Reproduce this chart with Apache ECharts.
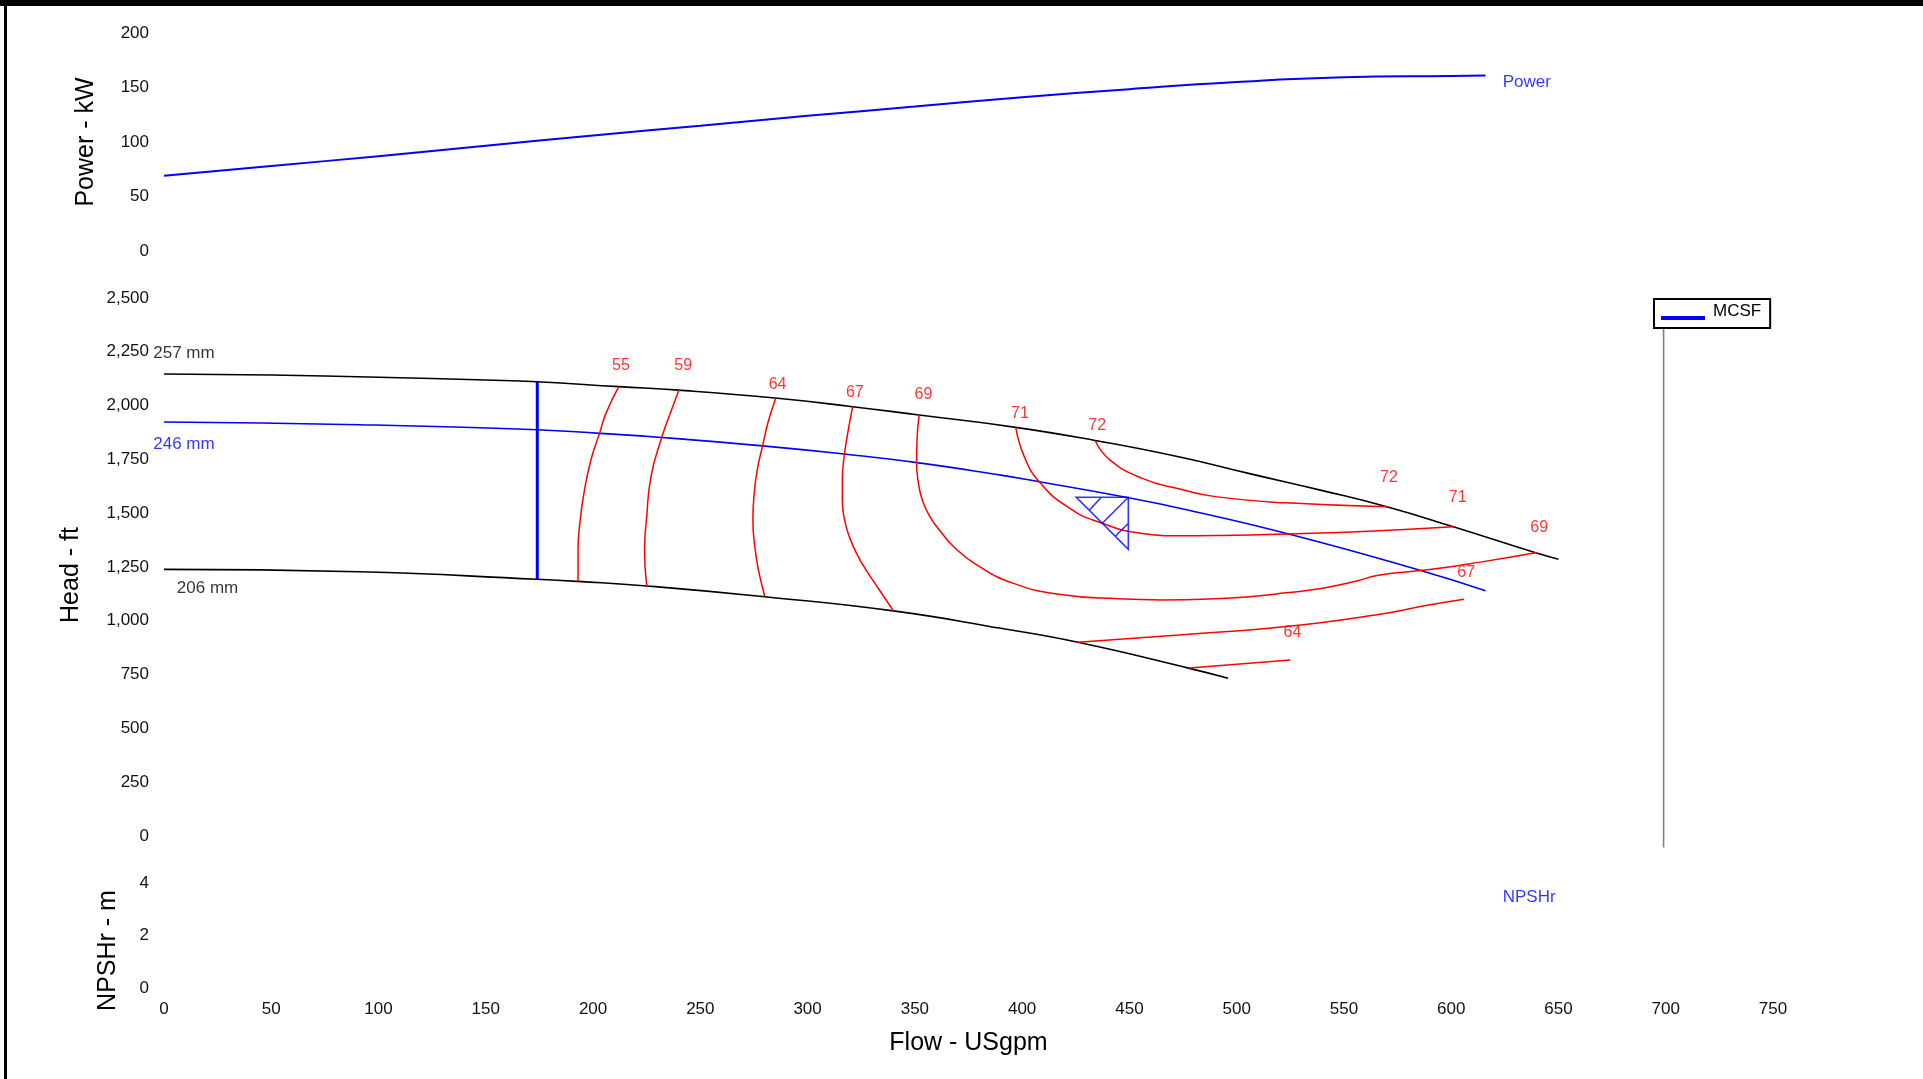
<!DOCTYPE html>
<html><head><meta charset="utf-8">
<script src="https://cdn.jsdelivr.net/npm/echarts@6/dist/echarts.min.js"></script>
<style>html,body{margin:0;padding:0;background:#fff;overflow:hidden}#c{width:1923px;height:1079px}</style>
</head><body><div id="c"></div>
<script>
// ---------- data (flow USgpm, value) ----------
const flowTicks = [0, 750, 50];           // min, max, step
const powerCurve = [[0,69],[50,78],[100,87],[150,96.5],[200,106],[250,115],[300,124],[350,132.5],[400,141],[450,148.5],[500,155],[550,159.3],[600,160.6],[616,161]];
const head257 = [[0,2147],[50,2142],[100,2132],[150,2119],[174,2111],[212,2088],[240,2072],[286,2034],[321,1995],[352,1956],[397,1899],[434,1838],[474,1760],[506,1684],[540,1605],[570,1530],[601,1437],[639,1317],[650,1286]];
const head246 = [[0,1924],[91,1911],[174,1888],[203,1871],[232,1852],[279,1813],[317,1775],[351,1735],[390,1677],[408,1646],[449,1573],[474,1522],[526,1399],[585,1236],[616,1140]];
const head206 = [[0,1239],[91,1228],[174,1193],[193,1183],[225,1162],[280,1112],[340,1046],[390,965],[426,900],[478,779],[496,733]];
const eff55 = [[212,2088],[206,1964],[203,1871],[199,1747],[196,1608],[194,1468],[193,1329],[193,1183]];
const eff59 = [[240,2072],[236,1964],[232,1852],[227,1670],[225,1484],[224,1329],[225,1162]];
const eff64 = [[285,2031],[281.5,1920],[279,1813],[276.5,1700],[275,1580],[274.5,1470],[275.2,1360],[277,1240],[280,1115]];
const eff67 = [[321,1995],[318.5,1860],[317,1760],[316.2,1660],[316.2,1560],[317.2,1470],[319.5,1390],[323,1310],[327,1240],[333,1150],[340,1046]];
const eff69 = [[352,1956],[351,1840],[350.8,1735],[351.5,1650],[353.5,1560],[357,1484],[362,1415],[368,1345],[379,1259],[396,1174],[418,1122],[445,1102],[465,1097],[490,1102],[506,1112],[523,1130],[540,1151],[556,1185],[566,1212],[590,1238],[615,1275],[640,1317]];
const eff71 = [[397,1900],[401,1763],[408,1646],[421,1530],[436,1458],[456,1406],[474,1395],[490,1396],[506,1399],[556,1414],[601,1437]];
const eff72 = [[434,1838],[441,1747],[456,1662],[474,1611],[490,1577],[523,1548],[570,1530]];
const effRight = [[426,900],[473,934],[523,973],[564.5,1027],[589.5,1073],[606,1100]];
const effLow = [[478,781],[525,818]];
const mcsfLine = [[174,2111],[174,1193]];
const maxFlowLine = [[699,2360],[699,-54]];
const dutyPoint = [449.5, 1574];
const effLabels = [[213,2186,'55'],[242,2188,'59'],[286,2096,'64'],[322,2062,'67'],[354,2049,'69'],[399,1961,'71'],[435,1907,'72'],[571,1667,'72'],[603,1574,'71'],[641,1434,'69'],[607,1224,'67'],[526,946,'64']];
const label257 = [-5,2244,'257 mm'];
const label246 = [-5,1822,'246 mm'];
const label206 = [6,1152,'206 mm'];
const powerLabel = [624,155,'Power'];
const npshLabel = [624,3.47,'NPSHr'];
const powerTicks = [0,200,50];
const headTicks = [0,2500,250];
const npshTicks = [0,4,2];

// ---------- chart ----------
const FONT = '"Liberation Sans", Arial, Helvetica, sans-serif';
const RED = '#ff0000', BLUE = '#0000ff', BLACK = '#000000';
const chart = echarts.init(document.getElementById('c'));

function curve(name, data, color, gi, width, extra) {
  return Object.assign({type:'line', name, data, xAxisIndex:gi, yAxisIndex:gi, symbol:'none',
    smooth:0.5, lineStyle:{color, width}, itemStyle:{color}, silent:true, z:3, animation:false}, extra || {});
}
function labels(list, gi, color, size, align) {
  return {type:'scatter', xAxisIndex:gi, yAxisIndex:gi, symbolSize:1, clip:false, silent:true, z:6,
    itemStyle:{color:'transparent'},
    data:list.map(d => ({value:[d[0], d[1]], name:d[2]})),
    label:{show:true, position:'inside', formatter:p => p.name, color, fontSize:size, fontFamily:FONT,
      align, verticalAlign:'middle'}};
}
const xBase = {type:'value', min:flowTicks[0], max:flowTicks[1], interval:flowTicks[2],
  axisLine:{show:false}, axisTick:{show:false}, splitLine:{show:false}};
function yAx(gi, t, name, gap, pad) {
  return {type:'value', gridIndex:gi, min:t[0], max:t[1], interval:t[2],
    axisLine:{show:false}, axisTick:{show:false}, splitLine:{show:false},
    axisLabel:{color:'#111', fontSize:17, fontFamily:FONT, margin:15,
      formatter:v => v.toLocaleString('en-US')},
    name, nameLocation:'middle', nameGap:gap, nameRotate:90,
    nameTextStyle:{color:'#000', fontSize:25, fontFamily:FONT, padding:pad}};
}
const gridBase = {left:164, right:150, outerBoundsMode:'none', containLabel:false};

const series = [
  curve('Power', powerCurve, BLUE, 0, 2),
  curve('257 mm', head257, BLACK, 1, 1.6),
  curve('246 mm', head246, BLUE, 1, 1.6),
  curve('206 mm', head206, BLACK, 1, 1.6),
  curve('e55', eff55, RED, 1, 1.5),
  curve('e59', eff59, RED, 1, 1.5),
  curve('e64', eff64, RED, 1, 1.5),
  curve('e67', eff67, RED, 1, 1.5),
  curve('e69', eff69, RED, 1, 1.5),
  curve('e71', eff71, RED, 1, 1.5),
  curve('e72', eff72, RED, 1, 1.5),
  curve('eR', effRight, RED, 1, 1.5),
  curve('eL', effLow, RED, 1, 1.5, {smooth:false}),
  curve('MCSF', mcsfLine, BLUE, 1, 3, {smooth:false, z:4}),
  curve('maxflow', maxFlowLine, '#808080', 1, 1.6, {smooth:false, clip:false}),
  {type:'scatter', xAxisIndex:1, yAxisIndex:1, data:[dutyPoint], silent:true, z:5,
    symbol:'path://M0,0 L100,0 L100,100 Z M25,25 L48,0 M50,50 L100,0 M75,75 L100,50',
    symbolSize:[52,52], symbolOffset:[-26,26],
    itemStyle:{color:'transparent', borderColor:BLUE, borderWidth:1.6}},
  labels(effLabels, 1, RED, 16, 'center'),
  labels([label257, label206], 1, BLACK, 17, 'left'),
  labels([label246], 1, BLUE, 17, 'left'),
  labels([powerLabel], 0, BLUE, 17, 'left'),
  labels([npshLabel], 2, BLUE, 17, 'left')
];

chart.setOption({
  animation:false,
  backgroundColor:'#ffffff',
  textStyle:{fontFamily:FONT},
  grid:[
    Object.assign({top:33, height:218}, gridBase),
    Object.assign({top:298, height:538}, gridBase),
    Object.assign({top:883, height:105}, gridBase)
  ],
  xAxis:[
    Object.assign({gridIndex:0, axisLabel:{show:false}}, xBase),
    Object.assign({gridIndex:1, axisLabel:{show:false}}, xBase),
    Object.assign({gridIndex:2, axisLabel:{show:true, color:'#111', fontSize:17, fontFamily:FONT, margin:13},
      name:'Flow - USgpm', nameLocation:'middle', nameGap:43,
      nameTextStyle:{color:'#000', fontSize:25, fontFamily:FONT}}, xBase)
  ],
  yAxis:[
    yAx(0, powerTicks, 'Power - kW', 65, [0,0,0,0]),
    yAx(1, headTicks, 'Head - ft', 80, [0,16,0,0]),
    yAx(2, npshTicks, 'NPSHr - m', 43, [0,30,0,0])
  ],
  legend:{
    data:['MCSF'], left:1654, top:299, orient:'horizontal', selectedMode:false,
    padding:[3,9,8,7], itemWidth:44, itemHeight:18,
    icon:'path://M0,0 L44,0 M0,14 L44,14 L44,18 L0,18 Z',
    itemStyle:{color:BLUE, borderWidth:0},
    borderColor:'#000', borderWidth:2, backgroundColor:'#fff',
    textStyle:{color:'#000', fontSize:17, fontFamily:FONT, padding:[0,0,0,3]}
  },
  graphic:[
    {type:'rect', shape:{x:0, y:0, width:1923, height:6}, style:{fill:'#000'}, silent:true, z:100},
    {type:'rect', shape:{x:4, y:0, width:3, height:1079}, style:{fill:'#000'}, silent:true, z:100}
  ],
  series
});
</script>
</body></html>
